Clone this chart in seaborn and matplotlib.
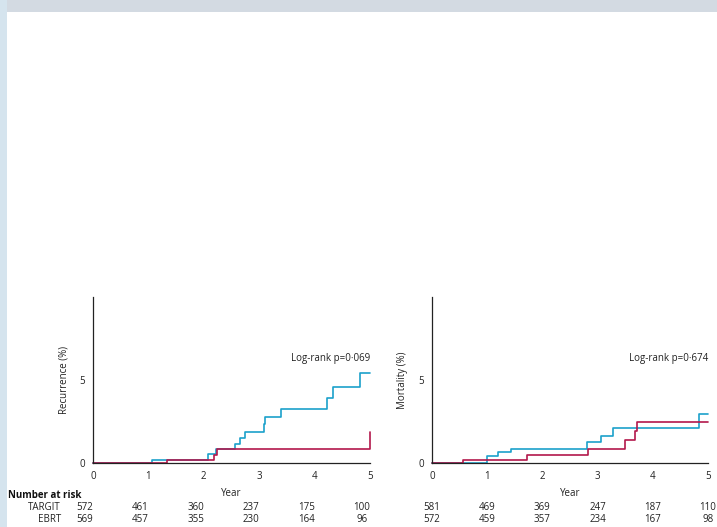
import matplotlib
matplotlib.use("Agg")
import matplotlib.pyplot as plt
import seaborn as sns
import pandas as pd
from matplotlib.patches import Rectangle

# Kaplan-Meier step estimates (years, cumulative %)
targit_rec_time = [0, 1.06, 2.07, 2.22, 2.56, 2.65, 2.74, 3.08, 3.11, 3.39, 4.22, 4.33, 4.82, 5.0]
targit_rec_pct = [0, 0.20, 0.52, 0.82, 1.14, 1.53, 1.87, 2.33, 2.77, 3.27, 3.90, 4.56, 5.44, 5.44]
ebrt_rec_time = [0, 1.33, 2.19, 2.23, 5.0, 5.0]
ebrt_rec_pct = [0, 0.20, 0.50, 0.86, 0.86, 1.87]

targit_mort_time = [0, 0.99, 1.20, 1.44, 2.80, 3.06, 3.27, 4.84, 5.0]
targit_mort_pct = [0, 0.42, 0.64, 0.86, 1.24, 1.65, 2.13, 2.93, 2.93]
ebrt_mort_time = [0, 0.56, 1.72, 2.83, 3.50, 3.68, 3.72, 5.0]
ebrt_mort_pct = [0, 0.20, 0.48, 0.84, 1.39, 1.95, 2.47, 2.47]

# Numbers at risk at years 0..5
risk_years = [0, 1, 2, 3, 4, 5]
rec_risk_targit = [572, 461, 360, 237, 175, 100]
rec_risk_ebrt = [569, 457, 355, 230, 164, 96]
mort_risk_targit = [581, 469, 369, 247, 187, 110]
mort_risk_ebrt = [572, 459, 357, 234, 167, 98]

p_recurrence = "Log-rank p=0·069"
p_mortality = "Log-rank p=0·674"

BLUE = "#1ba1cb"
RED = "#b3184c"
TXT = "#222222"
FS = 7

sns.set_theme(style="white")
plt.rcParams["font.family"] = ["Open Sans", "DejaVu Sans"]
plt.rcParams["font.size"] = FS

W, H = 717, 527
fig = plt.figure(figsize=(W / 100, H / 100), dpi=100, facecolor="white")

# page background bands
fig.patches.append(Rectangle((0, 1 - 12 / H), 1, 12 / H, transform=fig.transFigure,
                             facecolor="#d3dae2", edgecolor="none", zorder=0))
fig.patches.append(Rectangle((0, 0), 7 / W, 1, transform=fig.transFigure,
                             facecolor="#d5e4ee", edgecolor="none", zorder=0))


def px_axes(x0, x1, ytop, ybot):
    return fig.add_axes([x0 / W, 1 - ybot / H, (x1 - x0) / W, (ybot - ytop) / H])


def km_panel(ax, series, ylabel, ptext):
    for t, v, c in series:
        df = pd.DataFrame({"t": t, "v": v})
        sns.lineplot(data=df, x="t", y="v", estimator=None, sort=False,
                     drawstyle="steps-post", color=c, lw=1.2, ax=ax, clip_on=False)
    ax.set_xlim(0, 5)
    ax.set_ylim(0, 10)
    ax.set_xticks(risk_years)
    ax.set_yticks([0, 5])
    ax.set_xlabel("Year", color=TXT, fontsize=FS, labelpad=4)
    ax.set_ylabel(ylabel, color=TXT, fontsize=FS, labelpad=7)
    for s in ["top", "right"]:
        ax.spines[s].set_visible(False)
    for s in ["left", "bottom"]:
        ax.spines[s].set_color("#222222")
        ax.spines[s].set_linewidth(0.9)
    ax.tick_params(axis="both", direction="out", length=4, width=0.9,
                   colors="#222222", labelcolor=TXT, labelsize=FS, pad=2)
    ax.set_facecolor("none")
    ax.text(5, 6.3, ptext, ha="right", va="center", color=TXT, fontsize=FS)


ax1 = px_axes(93, 370, 297, 463)
km_panel(ax1, [(targit_rec_time, targit_rec_pct, BLUE),
               (ebrt_rec_time, ebrt_rec_pct, RED)],
         "Recurrence (%)", p_recurrence)

ax2 = px_axes(432, 708, 297, 463)
km_panel(ax2, [(targit_mort_time, targit_mort_pct, BLUE),
               (ebrt_mort_time, ebrt_mort_pct, RED)],
         "Mortality (%)", p_mortality)

# number-at-risk table
fig.text(8 / W, 1 - 496 / H, "Number at risk", fontsize=FS, fontweight="bold",
         color="#111111", va="center", ha="left")
fig.text(61 / W, 1 - 508 / H, "TARGIT", fontsize=FS, color=TXT, va="center", ha="right")
fig.text(61 / W, 1 - 520 / H, "EBRT", fontsize=FS, color=TXT, va="center", ha="right")

for ax, rt, re, shift in [(ax1, rec_risk_targit, rec_risk_ebrt, -0.15),
                          (ax2, mort_risk_targit, mort_risk_ebrt, 0.0)]:
    for yr, a, b in zip(risk_years, rt, re):
        xf = fig.transFigure.inverted().transform(ax.transData.transform((yr + shift, 0)))[0]
        fig.text(xf, 1 - 508 / H, str(a), fontsize=FS, color=TXT, ha="center", va="center")
        fig.text(xf, 1 - 520 / H, str(b), fontsize=FS, color=TXT, ha="center", va="center")

fig.savefig("out.png", dpi=100, facecolor="white")
